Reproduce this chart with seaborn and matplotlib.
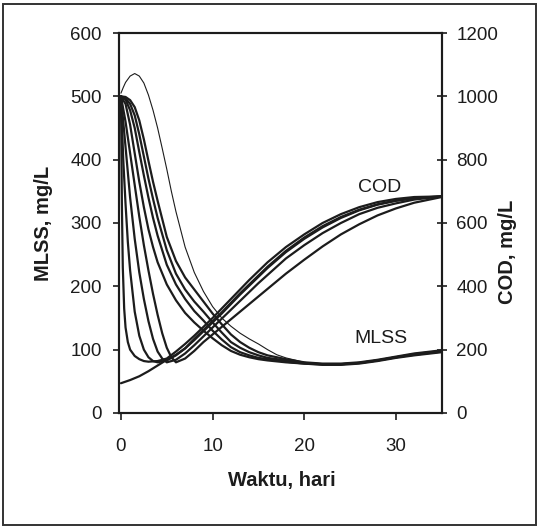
import numpy as np
import pandas as pd
import matplotlib
matplotlib.use("Agg")
import matplotlib.pyplot as plt
import seaborn as sns
from matplotlib.patches import Rectangle

sns.set_style("ticks")
plt.rcParams["font.family"] = ["Liberation Sans", "DejaVu Sans"]

# ---- MLSS curves (mg/L, left axis) ----
t_mlss = [0, 0.5, 1, 1.5, 2, 2.5, 3, 3.5, 4, 5, 6, 7, 8, 9, 10, 11, 12, 13, 14, 15, 16, 18, 20, 22, 24, 26, 28, 30, 32, 35]
mlss_1 = [500, 488, 455, 410, 365, 325, 290, 262, 238, 203, 178, 158, 143, 130, 118, 107, 98, 92, 88, 85, 83, 80, 78, 76, 76, 78, 82, 87, 91, 96]
mlss_2 = [500, 495, 478, 450, 412, 375, 340, 308, 280, 234, 203, 180, 161, 146, 130, 116, 104, 96, 91, 87, 85, 81, 78, 77, 77, 79, 83, 88, 92, 97]
mlss_3 = [500, 497, 488, 470, 440, 405, 370, 338, 308, 257, 220, 195, 176, 160, 143, 127, 112, 103, 96, 91, 87, 83, 79, 77, 77, 79, 83, 88, 93, 98]
mlss_4 = [500, 499, 494, 483, 462, 432, 398, 365, 335, 278, 240, 214, 195, 176, 157, 140, 124, 112, 103, 96, 91, 85, 80, 78, 78, 80, 84, 89, 94, 99]

# thin MLSS curve with the early peak
t_thin = [0, 0.25, 0.5, 1, 1.5, 2, 2.5, 3, 3.5, 4, 4.5, 5, 5.5, 6, 7, 8, 9, 10, 11, 12, 13, 14, 15, 16, 17, 18, 20, 22, 24, 26, 28, 30, 32, 35]
mlss_thin = [505, 514, 522, 532, 536, 532, 521, 502, 478, 450, 418, 385, 350, 318, 262, 222, 192, 168, 150, 137, 126, 117, 109, 100, 92, 87, 80, 77, 77, 79, 83, 88, 92, 97]

# ---- COD curves (mg/L, right axis) ----
t_cod_1 = [0, 0.1, 0.2, 0.35, 0.5, 0.75, 1, 1.5, 2, 2.5, 3, 4, 5, 6, 7, 8, 9, 10, 11, 12, 13, 14, 15, 16, 18, 20, 22, 24, 26, 28, 30, 32, 35]
cod_1 = [1000, 660, 460, 330, 270, 224, 200, 180, 170, 164, 162, 164, 172, 194, 218, 244, 272, 300, 330, 360, 390, 420, 448, 476, 524, 564, 600, 628, 650, 666, 676, 682, 684]

t_cod_2 = [0, 0.25, 0.5, 0.75, 1, 1.5, 2, 2.5, 3, 3.5, 4, 5, 6, 7, 8, 9, 10, 11, 12, 13, 14, 15, 16, 18, 20, 22, 24, 26, 28, 30, 32, 35]
cod_2 = [1000, 800, 660, 540, 450, 320, 244, 200, 176, 164, 160, 166, 182, 204, 230, 258, 286, 314, 344, 374, 402, 430, 458, 508, 550, 586, 616, 640, 658, 670, 678, 684]

t_cod_3 = [0, 0.5, 1, 1.5, 2, 2.5, 3, 3.5, 4, 4.5, 5, 6, 7, 8, 9, 10, 11, 12, 13, 14, 15, 16, 18, 20, 22, 24, 26, 28, 30, 32, 35]
cod_3 = [1000, 840, 680, 550, 444, 360, 290, 234, 194, 172, 160, 168, 188, 214, 242, 270, 298, 326, 354, 382, 410, 436, 488, 530, 568, 600, 628, 648, 662, 674, 684]

t_cod_4 = [0, 0.5, 1, 1.5, 2, 2.5, 3, 3.5, 4, 4.5, 5, 5.5, 6, 7, 8, 9, 10, 11, 12, 13, 14, 15, 16, 18, 20, 22, 24, 26, 28, 30, 32, 35]
cod_4 = [1000, 920, 820, 720, 620, 530, 450, 376, 310, 252, 206, 176, 160, 172, 196, 224, 248, 272, 296, 320, 344, 368, 392, 440, 484, 526, 564, 596, 624, 646, 664, 682]

t_cod_5 = [0, 1, 2, 3, 4, 5, 6, 7, 8, 9, 10, 11, 12, 13, 14, 15, 16, 18, 20, 22, 24, 26, 28, 30, 32, 35]
cod_5 = [94, 104, 116, 132, 150, 168, 184, 204, 234, 262, 290, 318, 348, 378, 406, 434, 462, 512, 554, 590, 619, 642, 659, 671, 679, 684]

x_ticks = [0, 10, 20, 30]
mlss_ticks = [0, 100, 200, 300, 400, 500, 600]
cod_ticks = [0, 200, 400, 600, 800, 1000, 1200]

ink = "#1c1c1c"


def long_form(pairs):
    frames = []
    for i, (t, v) in enumerate(pairs):
        frames.append(pd.DataFrame({"t": t, "v": v, "curve": i}))
    return pd.concat(frames, ignore_index=True)


df_mlss = long_form([(t_mlss, mlss_1), (t_mlss, mlss_2), (t_mlss, mlss_3), (t_mlss, mlss_4)])
df_thin = pd.DataFrame({"t": t_thin, "v": mlss_thin})
df_cod = long_form([(t_cod_1, cod_1), (t_cod_2, cod_2), (t_cod_3, cod_3),
                    (t_cod_4, cod_4), (t_cod_5, cod_5)])

fig = plt.figure(figsize=(5.39, 5.29), dpi=100)
ax = fig.add_axes([0.220, 0.2193, 0.5995, 0.7183])
ax2 = ax.twinx()

sns.lineplot(data=df_mlss, x="t", y="v", units="curve", estimator=None,
             color=ink, lw=1.6, ax=ax)
sns.lineplot(data=df_thin, x="t", y="v", color=ink, lw=0.8, ax=ax)
sns.lineplot(data=df_cod, x="t", y="v", units="curve", estimator=None,
             color=ink, lw=1.6, ax=ax2)

ax.set_xlim(-0.26, 35)
ax.set_ylim(0, 600)
ax2.set_ylim(0, 1200)
ax.set_xticks(x_ticks)
ax.set_yticks(mlss_ticks)
ax2.set_yticks(cod_ticks)

for a in (ax, ax2):
    for s in a.spines.values():
        s.set_visible(True)
        s.set_linewidth(1.5)
        s.set_color(ink)

ax.tick_params(axis="x", direction="out", length=5, width=1.2, pad=13,
               labelsize=13.5, colors=ink)
ax.tick_params(axis="y", direction="out", length=4, width=1.2, pad=8,
               labelsize=13.5, colors=ink)
ax2.tick_params(axis="y", direction="inout", length=7, width=1.2, pad=7,
                labelsize=13.5, colors=ink)

ax.set_xlabel("Waktu, hari", fontsize=14.5, fontweight="bold", color=ink)
ax.set_ylabel("MLSS, mg/L", fontsize=14.5, fontweight="bold", color=ink)
ax2.set_ylabel("COD, mg/L", fontsize=14.5, fontweight="bold", color=ink, rotation=90)
ax.xaxis.set_label_coords(0.506, -0.153)
ax.yaxis.set_label_coords(-0.203, 0.5)
ax2.yaxis.set_label_coords(1.175, 0.424)

ax.text(28.2, 356, "COD", fontsize=14, color=ink, ha="center", va="center")
ax.text(28.4, 118, "MLSS", fontsize=14, color=ink, ha="center", va="center")

fig.patches.append(Rectangle((0.006, 0.008), 0.988, 0.985, transform=fig.transFigure,
                             fill=False, edgecolor="#333333", lw=1.4))

fig.savefig("out.png", dpi=100, facecolor="white")
